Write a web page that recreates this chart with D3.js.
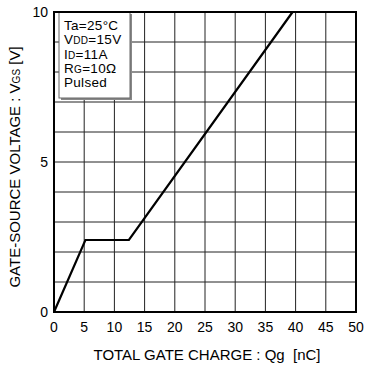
<!DOCTYPE html>
<html><head><meta charset="utf-8">
<script src="https://cdn.jsdelivr.net/npm/d3@7"></script>
<style>body{margin:0;background:#fff}svg{display:block;font-family:"Liberation Sans",Arial,sans-serif}</style>
</head><body><svg id="c" width="366" height="369"></svg>
<script>
const curveQ = [0, 5.2, 12.4, 39.5];
const curveV = [0, 2.4, 2.4, 10];
const xTicks = [0,5,10,15,20,25,30,35,40,45,50];
const yGrid = [0,1,2,3,4,5,6,7,8,9,10];
const yLabels = [0,5,10];
const notes = [["Ta=25°C"],["V","DD","=15V"],["I","D","=11A"],["R","G","=10Ω"],["Pulsed"]];

const svg = d3.select("#c");
const m = {l:54, r:356, t:12, b:312};
const x = d3.scaleLinear().domain([0,50]).range([m.l,m.r]);
const y = d3.scaleLinear().domain([0,10]).range([m.b,m.t]);

const g = svg.append("g");
g.selectAll(".vg").data(xTicks).join("line")
  .attr("x1",d=>x(d)).attr("x2",d=>x(d)).attr("y1",m.t).attr("y2",m.b)
  .attr("stroke","#222").attr("stroke-width",1);
g.selectAll(".hg").data(yGrid).join("line")
  .attr("x1",m.l).attr("x2",m.r).attr("y1",d=>y(d)).attr("y2",d=>y(d))
  .attr("stroke","#222").attr("stroke-width",1);

// legend box
const lb = svg.append("g");
lb.append("rect").attr("x",61).attr("y",14).attr("width",71).attr("height",86).attr("fill","#888");
lb.append("rect").attr("x",59).attr("y",12).attr("width",71).attr("height",86).attr("fill","#fff").attr("stroke","#666").attr("stroke-width",1);
notes.forEach((n,i)=>{
  const t = lb.append("text").attr("x",64).attr("y",30+i*14.3).attr("font-size",13.5)
    .attr("letter-spacing",0.3).attr("fill","#000");
  if(n.length===1){ t.text(n[0]); }
  else {
    t.append("tspan").text(n[0]);
    t.append("tspan").attr("font-size",10).text(n[1]);
    t.append("tspan").attr("font-size",13.5).text(n[2]);
  }
});

// curve
const line = d3.line().x((d,i)=>x(curveQ[i])).y((d,i)=>y(curveV[i]));
svg.append("path").datum(curveQ).attr("d",line).attr("fill","none").attr("stroke","#000").attr("stroke-width",2.2);

// frame
svg.append("rect").attr("x",m.l).attr("y",m.t).attr("width",m.r-m.l).attr("height",m.b-m.t)
  .attr("fill","none").attr("stroke","#000").attr("stroke-width",2);

// tick labels
svg.selectAll(".xl").data(xTicks).join("text")
  .attr("x",d=>x(d)).attr("y",332).attr("text-anchor","middle").attr("font-size",14).text(d=>d);
svg.selectAll(".yl").data(yLabels).join("text")
  .attr("x",48).attr("y",d=>y(d)+5).attr("text-anchor","end").attr("font-size",14).text(d=>d);

// axis titles
svg.append("text").attr("x",207).attr("y",360).attr("text-anchor","middle").attr("font-size",15)
  .style("white-space","pre").text("TOTAL GATE CHARGE : Qg  [nC]");
const yt = svg.append("text").attr("transform","translate(20,167) rotate(-90)").attr("text-anchor","middle").attr("font-size",15);
yt.append("tspan").text("GATE-SOURCE VOLTAGE : V");
yt.append("tspan").attr("font-size",10).text("GS");
yt.append("tspan").attr("font-size",15).text(" [V]");
</script></body></html>
